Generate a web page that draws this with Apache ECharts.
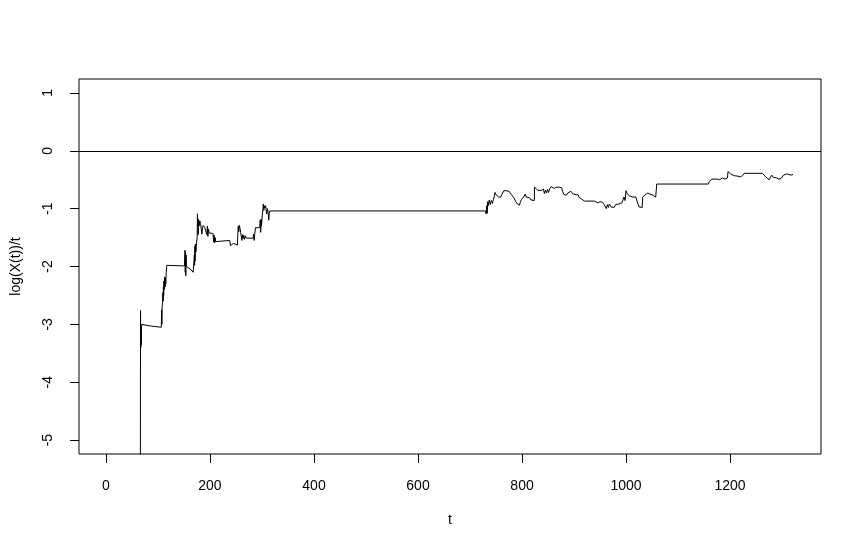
<!DOCTYPE html>
<html>
<head>
<meta charset="utf-8">
<script src="https://cdn.jsdelivr.net/npm/echarts@6/dist/echarts.min.js"></script>
<style>
html,body{margin:0;padding:0;background:#fff;}
#chart{width:861px;height:552px;}
</style>
</head>
<body>
<div id="chart"></div>
<script>
// x values (t) and y values (log(X(t))/t)
const tValues = [
66,66.5,67,67.5,68,68.5,87,106.5,107,107.5,108,109,109.5,110,110.5,111,111.5,112,113,114,114.5,115,116,117,
151,152,152.5,153,153.5,154,155,158,163,167.7,169.6,170,170.5,171,171.5,172,173,174,175.4,176,176.5,177,177.3,178,179,180.5,182,183.7,184.5,185.5,186.9,190,193.3,194,195,196,197,198.4,202,206,207,208,209,210,211,212.5,
238,239.4,245,252.8,253.5,254.5,255.4,256.5,258,259,260.5,261.5,262.5,263.7,265,266.5,268,270,283,284,285,286,287.4,295.7,296.5,297.5,298.5,299,300.5,302,302.5,303.5,304.5,305.3,307,309,310.5,311.7,313,314,315,
729.6,731,732,733,734,735,737,739,741,743,745,747,748,750,753,755,757,759,761,763,765,767,769,772,775,777,779,782,785,788,791,795,797,799,801,803,805,806,808,811,814,817,820.5,823.7,
824,827,830,833,836.6,839,841,843,845,847,849,851,853,856,857,859,862,866,869,872,876,878,880,882,885,888,891,894,897,900,904,906,908,910,912,914,916.5,920,939,942,946,950,953,955,957,958,960,962,964,966,968,971,974,977,980,983,986,989,992,994,996,998,
1000,1002,1004,1007,1010,1013,1016,1019,1021,1023,1025,1028,1031,1032,1035,1038,1042,1046,1050,1053,1057,1059,1158.5,1160,1163,1165,1176,1180,1185,1190,1195,1196,1199,1201,1204,1208,1215,1220,1224,1227,1230,1262,1265,1268.6,1271,1275,1278,1280,1283,1286,1290,1294,1298,1300.5,1303,1306,1309,1313,1317,1321
];
const yValues = [
-8,-2.76,-3.4,-3.15,-3.35,-3.0,-3.03,-3.05,-2.75,-3.0,-2.7,-2.62,-2.45,-2.6,-2.35,-2.5,-2.25,-2.4,-2.18,-2.35,-2.2,-2.3,-2.1,-1.98,
-1.99,-1.72,-2.1,-1.75,-2.16,-1.8,-2.0,-2.02,-2.05,-2.1,-2.08,-1.8,-1.98,-1.65,-1.9,-1.61,-1.75,-1.6,-1.5,-1.09,-1.3,-1.2,-1.45,-1.18,-1.3,-1.21,-1.26,-1.29,-1.44,-1.35,-1.29,-1.33,-1.3,-1.45,-1.3,-1.48,-1.35,-1.42,-1.45,-1.43,-1.58,-1.46,-1.59,-1.5,-1.57,-1.55,
-1.55,-1.64,-1.6,-1.63,-1.45,-1.3,-1.4,-1.29,-1.35,-1.41,-1.44,-1.55,-1.45,-1.52,-1.46,-1.53,-1.47,-1.51,-1.51,-1.44,-1.55,-1.45,-1.33,-1.33,-1.2,-1.41,-1.18,-1.3,-1.12,-1.0,-0.92,-1.03,-0.95,-0.99,-0.95,-1.09,-1.0,-1.06,-1.2,-1.08,-1.04,
-1.04,-1.09,-0.95,-1.08,-0.88,-0.95,-0.85,-0.93,-0.86,-0.91,-0.84,-0.78,-0.72,-0.76,-0.78,-0.8,-0.77,-0.8,-0.76,-0.74,-0.69,-0.71,-0.69,-0.72,-0.7,-0.73,-0.75,-0.75,-0.82,-0.88,-0.92,-0.94,-0.88,-0.84,-0.87,-0.8,-0.78,-0.75,-0.8,-0.83,-0.81,-0.85,-0.83,-0.86,
-0.63,-0.65,-0.68,-0.66,-0.69,-0.72,-0.66,-0.74,-0.68,-0.73,-0.67,-0.72,-0.66,-0.62,-0.6,-0.63,-0.65,-0.63,-0.66,-0.63,-0.64,-0.7,-0.75,-0.72,-0.77,-0.73,-0.72,-0.7,-0.74,-0.71,-0.76,-0.79,-0.76,-0.81,-0.78,-0.83,-0.86,-0.87,-0.87,-0.88,-0.9,-0.88,-0.91,-0.89,-0.86,-0.93,-0.9,-1.0,-0.93,-0.98,-0.92,-0.97,-0.94,-0.98,-0.93,-0.96,-0.92,-0.95,-0.9,-0.92,-0.8,-0.86,
-0.69,-0.74,-0.72,-0.78,-0.76,-0.8,-0.77,-0.8,-0.87,-0.92,-0.97,-0.95,-0.98,-0.8,-0.82,-0.75,-0.73,-0.75,-0.76,-0.79,-0.8,-0.575,-0.575,-0.53,-0.52,-0.49,-0.49,-0.5,-0.47,-0.49,-0.47,-0.36,-0.38,-0.4,-0.43,-0.43,-0.44,-0.45,-0.43,-0.39,-0.39,-0.39,-0.42,-0.45,-0.48,-0.5,-0.47,-0.42,-0.46,-0.48,-0.47,-0.49,-0.48,-0.45,-0.42,-0.44,-0.4,-0.41,-0.42,-0.41
];
const xTicks = [0, 200, 400, 600, 800, 1000, 1200];
const yTicks = [-5, -4, -3, -2, -1, 0, 1];
const refLineY = 0;

const seriesData = tValues.map((t, i) => [t, yValues[i]]);
const font = 'Liberation Sans, Arial, sans-serif';
const plain = v => String(v);
const chart = echarts.init(document.getElementById('chart'), null, {renderer: 'canvas'});
chart.setOption({
  animation: false,
  backgroundColor: '#ffffff',
  grid: {left: 79, right: 40, top: 79, bottom: 98, show: true, borderColor: '#000', borderWidth: 1, backgroundColor: 'transparent'},
  xAxis: {
    type: 'value', min: -51.8, max: 1374.8,
    name: 't', nameLocation: 'middle', nameGap: 59,
    nameTextStyle: {fontFamily: font, fontSize: 14, color: '#000'},
    axisLine: {show: false, onZero: false},
    splitLine: {show: false},
    axisTick: {show: true, length: 9, lineStyle: {color: '#000'}, customValues: xTicks},
    axisLabel: {fontFamily: font, fontSize: 14, color: '#000', margin: 25, customValues: xTicks, formatter: plain}
  },
  yAxis: {
    type: 'value', min: -5.24, max: 1.24,
    name: 'log(X(t))/t', nameLocation: 'middle', nameGap: 56, nameRotate: 90,
    nameTextStyle: {fontFamily: font, fontSize: 14, color: '#000'},
    axisLine: {show: false, onZero: false},
    splitLine: {show: false},
    axisTick: {show: true, length: 9, lineStyle: {color: '#000'}, customValues: yTicks},
    axisLabel: {fontFamily: font, fontSize: 14, color: '#000', margin: 24, rotate: 90, customValues: yTicks, formatter: plain}
  },
  series: [{
    type: 'line',
    data: seriesData,
    showSymbol: false,
    symbol: 'none',
    clip: true,
    lineStyle: {color: '#000', width: 1},
    markLine: {
      silent: true, symbol: 'none', label: {show: false},
      lineStyle: {color: '#000', width: 1, type: 'solid'},
      data: [{yAxis: refLineY}]
    }
  }]
});
</script>
</body>
</html>
